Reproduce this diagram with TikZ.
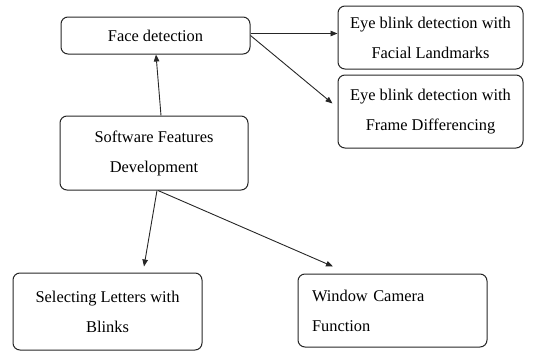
\documentclass[tikz,border=0pt]{standalone}
\usepackage{fontspec}
\setmainfont{Liberation Serif}
\usetikzlibrary{arrows.meta}

\tikzset{
  box/.style={draw=black!85, line width=1pt, rounded corners=7pt, align=center,
    inner xsep=6pt, font=\fontsize{16.4}{30}\selectfont},
  link/.style={draw=black!85, line width=0.9pt, -{Triangle[length=7pt,width=5.5pt]}}
}

\begin{document}
\begin{tikzpicture}[x=1pt,y=-1pt]
        \useasboundingbox (0,0) rectangle (552,351);
        % Boxes
        \node[box, minimum width=189pt, minimum height=37pt] (face) at (155.5,35.5) {Face detection};
        \node[box, minimum width=185pt, minimum height=63pt] (landmarks) at (430.5,37.5) {Eye blink detection with\\Facial Landmarks};
        \node[box, minimum width=185pt, minimum height=73pt] (differencing) at (430.5,111.5) {Eye blink detection with\\Frame Differencing};
        \node[box, minimum width=188pt, minimum height=74pt] (software) at (154,153) {Software Features\\Development};
        \node[box, minimum width=189pt, minimum height=77pt] (letters) at (107.5,311.5) {Selecting Letters with\\Blinks};
        \node[box, align=left, text width=161pt, inner xsep=14pt, minimum height=73pt] (camera) at (392.5,310.5) {Window Camera\\Function};
        % Arrows
        \draw[link] ([xshift=7pt]software.north) -- ([xshift=0.5pt]face.south);
        \draw[link] ([yshift=2pt]face.east) -- ([yshift=2pt]face.east -| landmarks.west);
        \draw[link] (face.east) -- ([xshift=-5pt,yshift=8pt]differencing.west);
        \draw[link] ([xshift=3pt]software.south) -- ([xshift=36.5pt,yshift=6pt]letters.north);
        \draw[link] ([xshift=4pt]software.south) -- ([xshift=-59.5pt,yshift=7pt]camera.north);
\end{tikzpicture}
\end{document}
